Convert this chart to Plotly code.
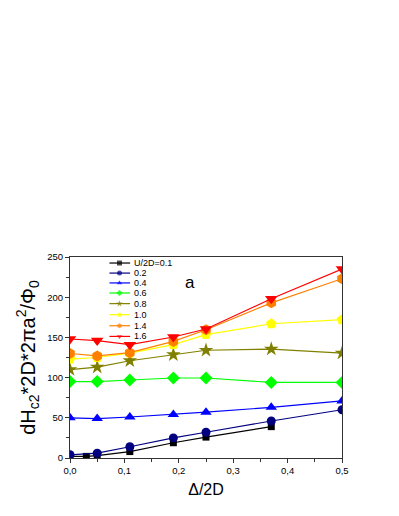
import plotly.graph_objects as go

# ---- data ----
x_common = [0, 0.05, 0.11, 0.19, 0.25, 0.37, 0.5]
x_black = [0, 0.03, 0.05, 0.11, 0.19, 0.25, 0.37]

y_01 = [2, 2, 3, 8, 19, 26, 39]
y_02 = [4, 6, 14, 25, 32, 46, 60]
y_04 = [50, 49, 51, 54, 57, 63, 71]
y_06 = [95, 95, 97, 99.5, 99.5, 94, 94]
y_08 = [110, 113, 121, 128.5, 134, 135.5, 130.5]
y_10 = [123, 125, 130.5, 141, 153.5, 167, 172]
y_14 = [130, 127, 131, 145, 159.5, 193, 223]
y_16 = [148, 146, 141, 150.5, 160.5, 198, 235]

labels = ["U/2D=0.1", "0.2", "0.4", "0.6", "0.8", "1.0", "1.4", "1.6"]
xticks = [0, 0.1, 0.2, 0.3, 0.4, 0.5]
yticks = [0, 50, 100, 150, 200, 250]

series = [
    (x_black, y_01, "#000000", "square", 7),
    (x_common, y_02, "#000080", "circle", 9),
    (x_common, y_04, "#0000FF", "triangle-up", 10),
    (x_common, y_06, "#00FF00", "diamond", 10),
    (x_common, y_08, "#808000", "star", 11),
    (x_common, y_10, "#FFFF00", "pentagon", 11),
    (x_common, y_14, "#FF8000", "hexagon", 11),
    (x_common, y_16, "#FF0000", "triangle-down", 11),
]

fig = go.Figure()
for (xs, ys, col, sym, sz), lab in zip(series, labels):
    fig.add_trace(go.Scatter(
        x=xs, y=ys, mode="lines+markers", name=lab, showlegend=False,
        line=dict(color=col, width=1.2),
        marker=dict(color=col, symbol=sym, size=sz, line=dict(width=0)),
    ))

# ---- manual compact legend on hidden overlay axes (fractions of plot area) ----
leg_x = [0.145, 0.182, 0.221]
leg_text_x = 0.229
leg_rows = [0.970, 0.920, 0.871, 0.821, 0.768, 0.713, 0.658, 0.605]
for (xs, ys, col, sym, sz), lab, ry in zip(series, labels, leg_rows):
    fig.add_trace(go.Scatter(
        x=leg_x, y=[ry] * 3, xaxis="x2", yaxis="y2", mode="lines+markers",
        showlegend=False, hoverinfo="skip",
        line=dict(color=col, width=1.2),
        marker=dict(color=col, symbol=sym, size=[0, 5, 0], line=dict(width=0)),
    ))
    fig.add_annotation(x=leg_text_x, y=ry, xref="x2", yref="y2", text=lab,
                       showarrow=False, xanchor="left", yanchor="middle",
                       font=dict(size=9, color="#000000"))

fig.add_annotation(x=0.22, y=218, xref="x", yref="y", text="a", showarrow=False,
                   font=dict(size=17, color="#000000"))

axis_font = dict(family="Liberation Sans, Arial, sans-serif", size=9.5, color="#000000")
# page body has an 8px default margin, so the figure is sized 8px smaller
fig.update_layout(
    width=391, height=508,
    margin=dict(l=62, r=57, t=249, b=58),
    paper_bgcolor="white", plot_bgcolor="white",
    separators=",.",
    font=dict(family="Liberation Sans, Arial, sans-serif", color="#000000"),
    xaxis=dict(
        range=[0, 0.5], tickvals=xticks, tickformat=".1f", automargin=False,
        showgrid=False, zeroline=False,
        showline=True, linecolor="#333333", linewidth=1, mirror=True,
        ticks="outside", ticklen=4, tickcolor="#333333", tickfont=axis_font,
        minor=dict(dtick=0.05, ticks="outside", ticklen=3, tickcolor="#333333", showgrid=False),
        title=dict(text="Δ/2D", font=dict(size=16), standoff=8),
    ),
    yaxis=dict(
        range=[0, 250], tickvals=yticks, automargin=False,
        showgrid=False, zeroline=False,
        showline=True, linecolor="#333333", linewidth=1, mirror=True,
        ticks="outside", ticklen=4, tickcolor="#333333", tickfont=axis_font,
        minor=dict(dtick=25, ticks="outside", ticklen=3, tickcolor="#333333", showgrid=False),
        title=dict(text="dH<sub>c2</sub>*2D*2πa<sup>2</sup>/Φ<sub>0</sub>",
                   font=dict(size=20), standoff=6),
    ),
    xaxis2=dict(overlaying="x", range=[0, 1], visible=False),
    yaxis2=dict(overlaying="y", range=[0, 1], visible=False),
)

fig.write_html("out.html")
